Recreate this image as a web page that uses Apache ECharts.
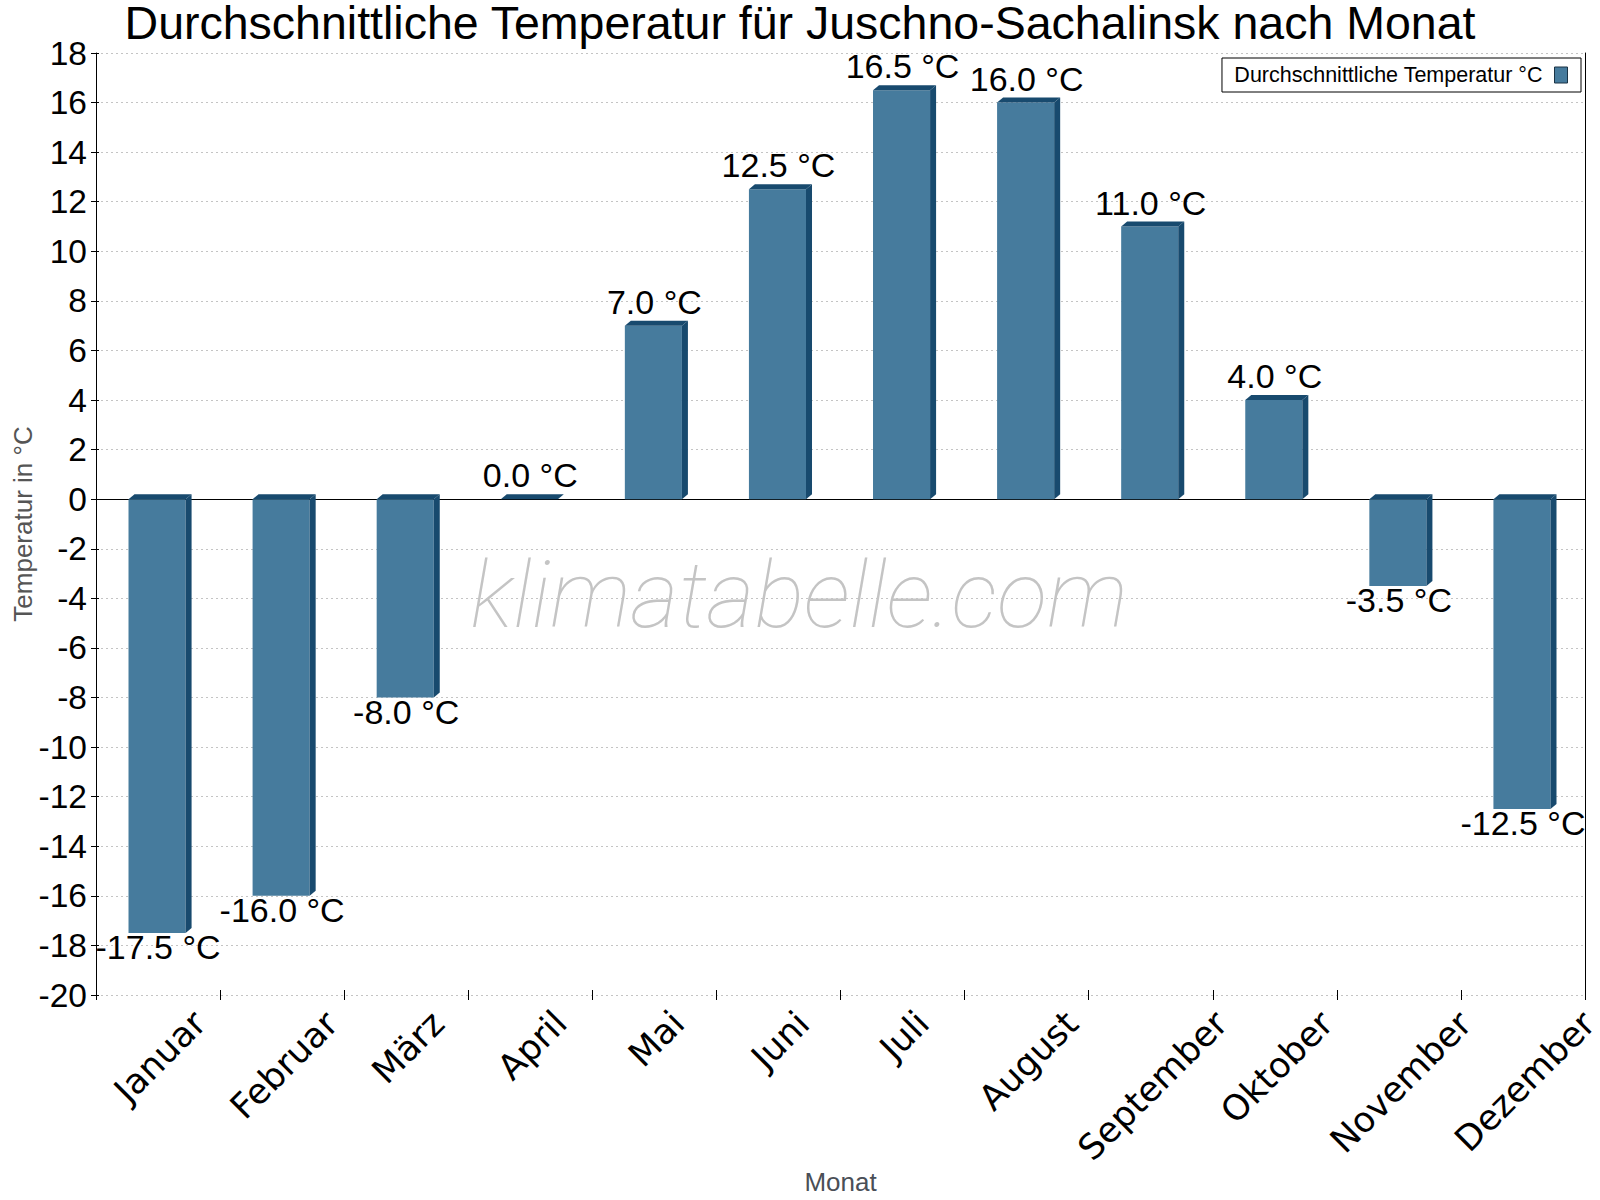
<!DOCTYPE html>
<html>
<head>
<meta charset="utf-8">
<script src="https://cdn.jsdelivr.net/npm/echarts@6/dist/echarts.min.js"></script>
<style>
  html, body { margin: 0; padding: 0; background: #fff; }
  #chart { width: 1600px; height: 1200px; }
</style>
</head>
<body>
<div id="chart"></div>
<script>
// Klimatabelle Juschno-Sachalinsk, Monatsmittel
const months = ["Januar", "Februar", "März", "April", "Mai", "Juni", "Juli", "August", "September", "Oktober", "November", "Dezember"];
const temps = [-17.5, -16.0, -8.0, 0.0, 7.0, 12.5, 16.5, 16.0, 11.0, 4.0, -3.5, -12.5];
const yMin = -20;
const yMax = 18;
const yStep = 2;

const seriesName = "Durchschnittliche Temperatur °C";
const FRONT = "#467b9d";
const DARK = "#184a6e";
const ARIAL = "Liberation Sans, Arial, sans-serif";
const CAT_FONT = "DejaVu Sans";
const CAT_SIZE = 35;

const gridPos = { top: 53, bottom: 205, left: 96, right: 15 };
const labelShift = 2;

// rotated month labels are centred under the band with their top on one line,
// so push each one down by half its rotated height (padding trick)
const measureCtx = document.createElement("canvas").getContext("2d");
measureCtx.font = CAT_SIZE + "px '" + CAT_FONT + "'";
const catRich = {};
months.forEach((m, i) => {
  const p = Math.round((measureCtx.measureText(m).width + CAT_SIZE) / 2);
  catRich["m" + i] = {
    padding: [p, p, 0, 0],
    fontSize: CAT_SIZE,
    fontFamily: CAT_FONT,
    color: "#000",
  };
});

function renderBar(params, api) {
  const i = api.value(0);
  const v = api.value(1);
  const band = api.size([1, 0])[0];
  const c0 = api.coord([i, 0]);
  const c1 = api.coord([i, v]);
  const x0 = c0[0] - band * 0.238;
  const w = band * 0.46;
  const yTop = Math.min(c0[1], c1[1]);
  const yBot = Math.max(c0[1], c1[1]);
  const dx = 6, dy = 5;
  const children = [];
  if (yBot - yTop > 0.5) {
    children.push({
      type: "rect",
      shape: { x: x0, y: yTop, width: w, height: yBot - yTop },
      style: { fill: FRONT },
    });
    children.push({
      type: "polygon",
      shape: { points: [[x0 + w, yTop], [x0 + w + dx, yTop - dy], [x0 + w + dx, yBot - dy], [x0 + w, yBot]] },
      style: { fill: DARK },
    });
  }
  children.push({
    type: "polygon",
    shape: { points: [[x0, yTop], [x0 + dx, yTop - dy], [x0 + w + dx, yTop - dy], [x0 + w, yTop]] },
    style: { fill: DARK },
  });
  children.push({
    type: "text",
    x: c0[0],
    y: v < 0 ? yBot + 14 : yTop - 24,
    style: {
      text: v.toFixed(1) + " °C",
      fill: "#000",
      font: "34px " + ARIAL,
      textAlign: "center",
      textVerticalAlign: "middle",
    },
  });
  return { type: "group", children };
}

const chart = echarts.init(document.getElementById("chart"), null, { renderer: "svg" });
chart.setOption({
  backgroundColor: "#fff",
  animation: false,
  title: {
    text: "Durchschnittliche Temperatur für Juschno-Sachalinsk nach Monat",
    left: "center",
    top: 2,
    padding: 0,
    textStyle: { fontSize: 46.5, lineHeight: 42, fontWeight: "normal", color: "#000", fontFamily: ARIAL },
  },
  legend: {
    data: [{ name: seriesName, icon: "rect" }],
    right: 19,
    top: 58,
    align: "right",
    padding: [6, 13, 6, 12],
    borderColor: "#000",
    borderWidth: 1,
    itemWidth: 13,
    itemHeight: 16,
    itemStyle: { color: FRONT, borderColor: "#1a3345", borderWidth: 1 },
    textStyle: { fontSize: 21.5, color: "#000", fontFamily: ARIAL, padding: [0, 7, 0, 0] },
  },
  graphic: [
    {
      type: "text",
      x: 799,
      y: 595,
      z: -1,
      silent: true,
      style: {
        text: "klimatabelle.com",
        font: "italic 100 93px Roboto, sans-serif",
        fill: "#c4c4c4",
        textAlign: "center",
        textVerticalAlign: "middle",
      },
    },
  ],
  grid: [
    { ...gridPos, outerBoundsMode: "none", containLabel: false },
    {
      top: gridPos.top,
      bottom: gridPos.bottom,
      left: gridPos.left + labelShift,
      right: gridPos.right - labelShift,
      outerBoundsMode: "none",
      containLabel: false,
    },
  ],
  xAxis: [
    {
      type: "category",
      gridIndex: 0,
      position: "bottom",
      data: months,
      axisLine: { show: false, onZero: false },
      axisTick: { show: true, length: 5, lineStyle: { color: "#000" } },
      axisLabel: { show: false },
      splitLine: { show: false },
      name: "Monat",
      nameLocation: "middle",
      nameGap: 174,
      nameMoveOverlap: false,
      nameTextStyle: { fontSize: 26, color: "#4a4f57", fontFamily: ARIAL },
    },
    {
      type: "category",
      gridIndex: 0,
      position: "top",
      data: months,
      axisLine: { show: true, onZero: true, lineStyle: { color: "#000", width: 1 } },
      axisTick: { show: false },
      axisLabel: { show: false },
      splitLine: { show: false },
    },
    {
      type: "category",
      gridIndex: 1,
      data: months,
      axisLine: { show: false },
      axisTick: { show: false },
      axisLabel: {
        interval: 0,
        rotate: 45,
        margin: 10,
        align: "center",
        verticalAlign: "middle",
        formatter: (val, idx) => "{m" + idx + "|" + val + "}",
        rich: catRich,
      },
    },
    {
      // inner half of the crossing ticks at the bottom
      type: "category",
      gridIndex: 0,
      position: "bottom",
      data: months,
      axisLine: { show: false, onZero: false },
      axisTick: { show: true, inside: true, length: 5, lineStyle: { color: "#000" } },
      axisLabel: { show: false },
      splitLine: { show: false },
    },
  ],
  yAxis: [
    {
      type: "value",
      gridIndex: 0,
      min: yMin,
      max: yMax,
      interval: yStep,
      axisLine: { show: true, onZero: false, lineStyle: { color: "#000" } },
      axisTick: { show: true, length: 5, lineStyle: { color: "#000" } },
      axisLabel: { fontSize: 33.5, color: "#000", fontFamily: ARIAL, margin: 9 },
      splitLine: { show: true, lineStyle: { color: "#c4c4c4", type: [2, 3] } },
      name: "Temperatur in °C",
      nameLocation: "middle",
      nameRotate: 90,
      nameGap: 60,
      nameMoveOverlap: false,
      nameTextStyle: { fontSize: 26, color: "#555", fontFamily: ARIAL },
    },
    {
      type: "value",
      gridIndex: 0,
      position: "right",
      min: yMin,
      max: yMax,
      interval: yStep,
      axisLine: { show: true, onZero: false, lineStyle: { color: "#000" } },
      axisTick: { show: false },
      axisLabel: { show: false },
      splitLine: { show: false },
    },
    {
      type: "value",
      gridIndex: 1,
      min: yMin,
      max: yMax,
      show: false,
    },
    {
      // inner half of the crossing ticks on the left
      type: "value",
      gridIndex: 0,
      position: "left",
      min: yMin,
      max: yMax,
      interval: yStep,
      axisLine: { show: false, onZero: false },
      axisTick: { show: true, inside: true, length: 3, lineStyle: { color: "#000" } },
      axisLabel: { show: false },
      splitLine: { show: false },
    },
  ],
  series: [
    {
      name: seriesName,
      type: "custom",
      xAxisIndex: 0,
      yAxisIndex: 0,
      itemStyle: { color: FRONT },
      renderItem: renderBar,
      data: temps.map((v, i) => [i, v]),
    },
  ],
});
</script>
</body>
</html>
